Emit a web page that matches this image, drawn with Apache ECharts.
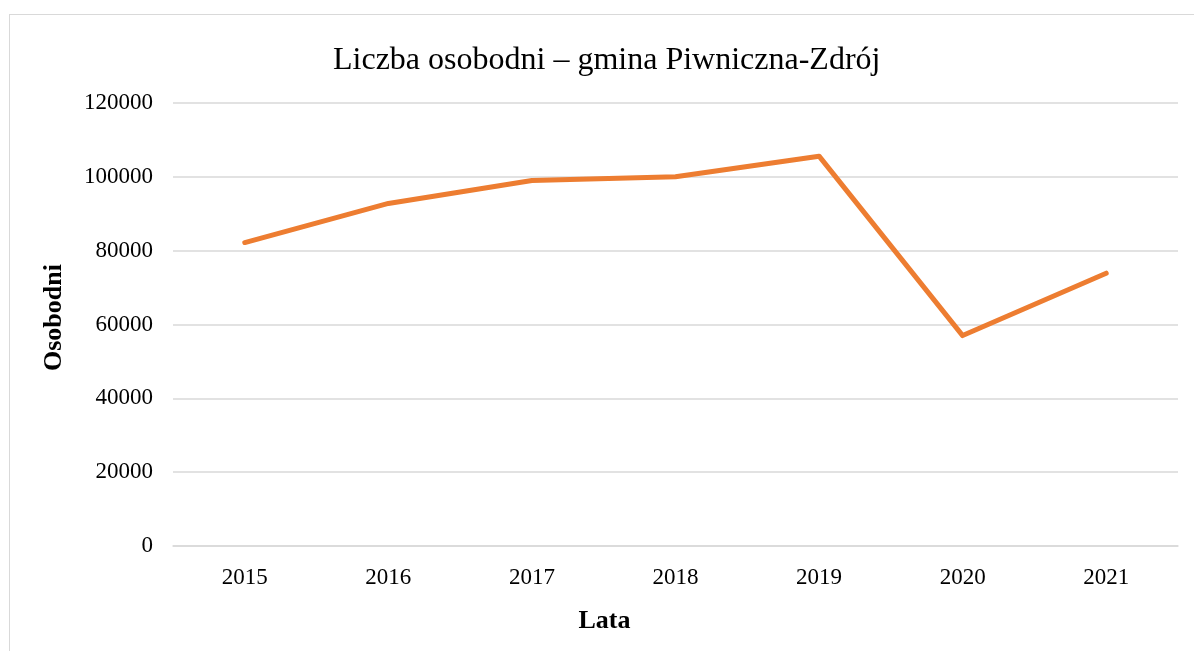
<!DOCTYPE html>
<html>
<head>
<meta charset="utf-8">
<script src="https://cdn.jsdelivr.net/npm/echarts@6/dist/echarts.min.js"></script>
<style>
  html, body { margin: 0; padding: 0; background: #fff; }
  #frame {
    position: absolute; left: 9px; top: 14px; width: 1200px; height: 660px;
    border: 1px solid #d9d9d9; box-sizing: border-box;
  }
  #chart { position: absolute; left: 0; top: 0; width: 1194px; height: 651px; }
</style>
</head>
<body>
<div id="frame"></div>
<div id="chart"></div>
<script>
// dane z wykresu
const years = ['2015', '2016', '2017', '2018', '2019', '2020', '2021']
const visitorDays = [82200, 92800, 99000, 100000, 105600, 57000, 73900]
const yTicks = { min: 0, max: 120000, interval: 20000 }

const chart = echarts.init(document.getElementById('chart'))
chart.setOption({
  animation: false,
  textStyle: { fontFamily: 'Liberation Serif' },
  title: {
    text: 'Liczba osobodni – gmina Piwniczna-Zdrój',
    left: 328,
    top: 40,
    textStyle: { fontFamily: 'Liberation Serif', fontSize: 32, fontWeight: 'normal', color: '#000' }
  },
  grid: { left: 173, right: 16, top: 103, bottom: 105 },
  xAxis: {
    type: 'category',
    data: years,
    name: 'Lata',
    nameLocation: 'middle',
    nameGap: 62,
    // nazwa osi przesunięta w lewo jak w oryginale
    nameTextStyle: { fontFamily: 'Liberation Serif', fontSize: 26, fontWeight: 'bold', color: '#000', padding: [0, 142, 0, 0] },
    axisLine: { lineStyle: { color: '#d9d9d9', width: 1.5 } },
    axisTick: { show: false },
    axisLabel: { fontSize: 23, color: '#000', margin: 20 }
  },
  yAxis: {
    type: 'value',
    min: yTicks.min,
    max: yTicks.max,
    interval: yTicks.interval,
    name: 'Osobodni',
    nameLocation: 'middle',
    nameGap: 106,
    nameTextStyle: { fontFamily: 'Liberation Serif', fontSize: 26, fontWeight: 'bold', color: '#000', padding: [0, 0, 0, 14] },
    axisLine: { show: false },
    axisTick: { show: false },
    axisLabel: { fontSize: 23, color: '#000', margin: 20, formatter: v => String(v) },
    splitLine: { lineStyle: { color: '#d9d9d9', width: 1.5 } }
  },
  series: [{
    name: 'Osobodni',
    type: 'line',
    data: visitorDays,
    showSymbol: false,
    lineStyle: { color: '#ED7D31', width: 5, cap: 'round', join: 'round' },
    itemStyle: { color: '#ED7D31' }
  }]
})
</script>
</body>
</html>
